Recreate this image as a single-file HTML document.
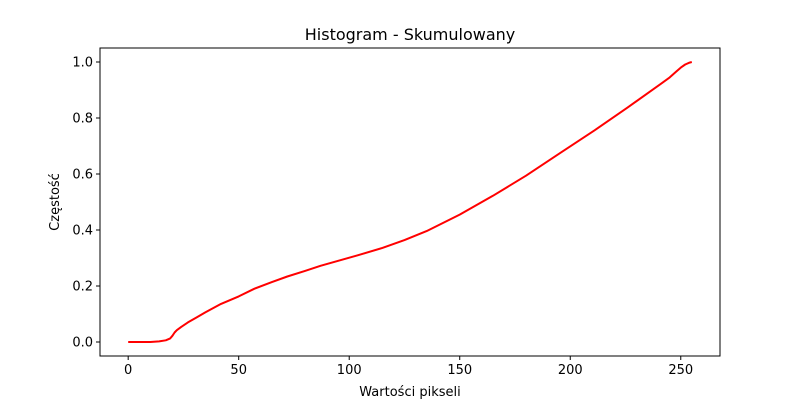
<!DOCTYPE html>
<html><head><meta charset="utf-8"><style>
body{margin:0;background:#fff;}
svg{display:block;font-family:"DejaVu Sans","Liberation Sans",sans-serif;}
</style></head><body>
<svg id="chart" width="800" height="400">
<rect width="800" height="400" fill="#fff"/>
<text x="410" y="40" text-anchor="middle" font-size="16">Histogram - Skumulowany</text>
<text x="410" y="396" text-anchor="middle" font-size="13">Wartości pikseli</text>
<text x="59" y="202" text-anchor="middle" font-size="13" transform="rotate(-90 59 202)">Częstość</text>
<g id="ticks"></g>
<path id="line" fill="none" stroke="#ff0000" stroke-width="2" stroke-linejoin="round"/>
<rect x="100" y="48" width="620" height="308" fill="none" stroke="#000" stroke-width="1"/>
</svg>
<script>
const xValues=[0,10,14,17,19,20,21,22,24,27,31,35,42,50,57,65,72,80,87,95,104,115,125,135,150,165,180,196,211,226,241,245,248,250,252,254,255];
const yValues=[0,0,0.002,0.006,0.013,0.022,0.034,0.042,0.054,0.07,0.088,0.106,0.136,0.163,0.19,0.214,0.234,0.254,0.272,0.29,0.31,0.336,0.364,0.396,0.455,0.522,0.594,0.678,0.756,0.838,0.922,0.945,0.966,0.98,0.991,0.998,1.0];
const xTicks=[0,50,100,150,200,250];
const yTicks=[0,0.2,0.4,0.6,0.8,1.0];
const yTickLabels=["0.0","0.2","0.4","0.6","0.8","1.0"];
const L=100,R=720,T=48,B=356;
const xMin=-12.75,xMax=267.75,yMin=-0.05,yMax=1.05;
function sx(v){return L+(v-xMin)/(xMax-xMin)*(R-L);}
function sy(v){return B-(v-yMin)/(yMax-yMin)*(B-T);}
const NS="http://www.w3.org/2000/svg";
const g=document.getElementById('ticks');
xTicks.forEach(t=>{
  const l=document.createElementNS(NS,'line');
  l.setAttribute('x1',sx(t));l.setAttribute('x2',sx(t));l.setAttribute('y1',B);l.setAttribute('y2',B+4);l.setAttribute('stroke','#000');
  
  
  g.appendChild(l);
  const tx=document.createElementNS(NS,'text');
  tx.setAttribute('x',sx(t));tx.setAttribute('y',B+18);tx.setAttribute('text-anchor','middle');tx.setAttribute('font-size','13');
  tx.textContent=t;
  
  
  g.appendChild(tx);
});
yTicks.forEach((t,i)=>{
  const l=document.createElementNS(NS,'line');
  l.setAttribute('x1',L-4);l.setAttribute('x2',L);l.setAttribute('y1',sy(t));l.setAttribute('y2',sy(t));l.setAttribute('stroke','#000');
  
  
  g.appendChild(l);
  const tx=document.createElementNS(NS,'text');
  tx.setAttribute('x',L-7);tx.setAttribute('y',sy(t)+4.5);tx.setAttribute('text-anchor','end');tx.setAttribute('font-size','13');
  tx.textContent=yTickLabels[i];
  
  
  g.appendChild(tx);
});
document.getElementById('line').setAttribute('d',xValues.map((x,i)=>(i?'L':'M')+sx(x).toFixed(1)+','+sy(yValues[i]).toFixed(1)).join(' '));
</script>
</body></html>
